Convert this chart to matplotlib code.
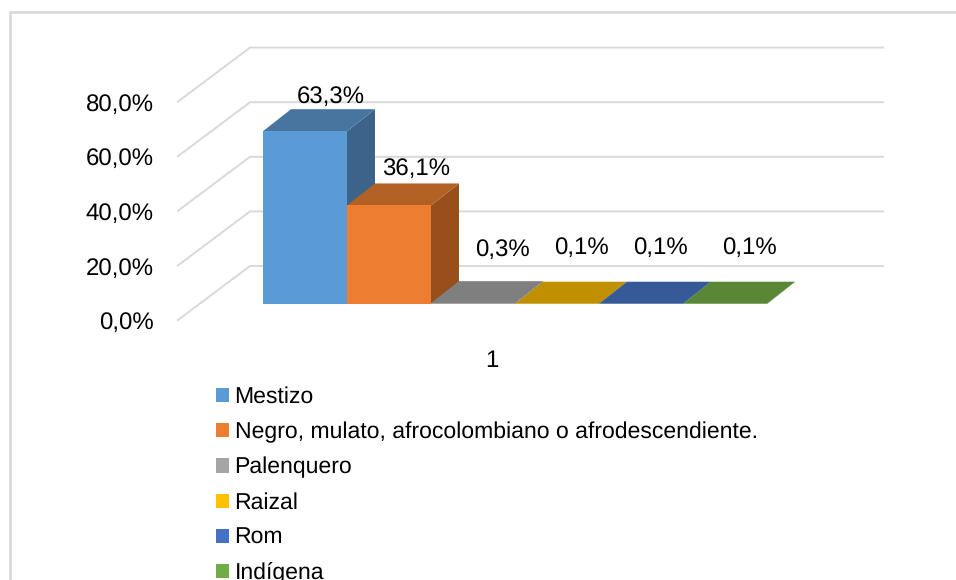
import matplotlib
matplotlib.use('Agg')
from matplotlib import pyplot as plt
from matplotlib.patches import Patch, Polygon
import numpy as np

categories = ['Mestizo', 'Negro, mulato, afrocolombiano o afrodescendiente.',
              'Palenquero', 'Raizal', 'Rom', 'Indígena']
values = [63.3, 36.1, 0.3, 0.1, 0.1, 0.1]
value_labels = ['63,3%', '36,1%', '0,3%', '0,1%', '0,1%', '0,1%']
axis_ticks = [0, 20, 40, 60, 80]
axis_labels = ['0,0%', '20,0%', '40,0%', '60,0%', '80,0%']
group_label = '1'

colors = ['#5B9BD5', '#ED7D31', '#A5A5A5', '#FFC000', '#4472C4', '#70AD47']
top_colors = ['#4775A0', '#B26024', '#7F7F7F', '#C09000', '#355A97', '#5A8736']
side_colors = ['#3C648A', '#97501C', '#6B6B6B', '#A37A00', '#2D4C80', '#4B722E']

# pixel layout of the picture
W, H = 956, 580
BAR_W = 84
X0 = 263
Y0 = 304
PX = 2.73

# depth of the bars and of the walls, in data units
bar_dx = 28 / BAR_W
bar_dy = 22 / PX
wall_dy = 38 / PX
front_dy = -16 / PX
wall_x0 = (250 - X0) / BAR_W
wall_x1 = (883 - X0) / BAR_W
front_x = (178 - X0) / BAR_W

# label nudges (pixels) from the top centre of each bar
label_dx = [26, 27, 29, 24, 19, 24]
label_dy = [34, 37, 53.5, 56, 56, 56]

plt.rcParams['font.family'] = ['Liberation Sans', 'DejaVu Sans']
plt.rcParams['text.hinting'] = 'no_hinting'
plt.rcParams['text.hinting_factor'] = 1
FS = 17
LEGEND_FS = 16.5

fig = plt.figure(figsize=(W / 100, H / 100), dpi=100)
ax = fig.add_axes([0, 0, 1, 1])
ax.set_xlim(-X0 / BAR_W, (W - X0) / BAR_W)
ax.set_ylim((Y0 - H) / PX, Y0 / PX)
ax.axis('off')

# outer frame, only left and top are inside the picture
frame_x = (10.3 - X0) / BAR_W
frame_y = (Y0 - 12.2) / PX
ax.plot([frame_x, frame_x, (W - X0) / BAR_W], [(Y0 - H) / PX, frame_y, frame_y],
        color='#D9D9D9', lw=1.9, solid_joinstyle='miter')

# gridlines on back wall and side wall
for t, lab in zip(axis_ticks, axis_labels):
    ax.plot([front_x, wall_x0, wall_x1], [t + front_dy, t + wall_dy, t + wall_dy],
            color='#D9D9D9', lw=1.4, solid_joinstyle='miter', zorder=1)
    ax.annotate(lab, (front_x, t + front_dy), xytext=(-24, -3), textcoords='offset pixels',
                ha='right', va='center', fontsize=FS, color='black')

x = np.arange(len(values))
ax.bar(x + 0.5, values, width=1, color=colors, zorder=2)
for i, v in enumerate(values):
    top = [(i, v), (i + 1, v), (i + 1 + bar_dx, v + bar_dy), (i + bar_dx, v + bar_dy)]
    side = [(i + 1, 0), (i + 1 + bar_dx, bar_dy), (i + 1 + bar_dx, v + bar_dy), (i + 1, v)]
    ax.add_patch(Polygon(side, closed=True, fc=side_colors[i], ec='none', zorder=1.5 + i * 0.01))
    ax.add_patch(Polygon(top, closed=True, fc=top_colors[i], ec='none', zorder=1.5 + i * 0.01))
    ax.annotate(value_labels[i], (i + 0.5, v), xytext=(label_dx[i], label_dy[i]),
                textcoords='offset pixels', ha='center', va='center',
                fontsize=FS + 0.3, color='black', zorder=5)

ax.text((492 - X0) / BAR_W, (Y0 - 361) / PX, group_label, ha='center', va='center',
        fontsize=FS, color='black')

handles = [Patch(fc=c, ec='none') for c in colors]
ax.legend(handles, categories, loc='upper left',
          bbox_to_anchor=(216 / W, 1 - 386.5 / H), frameon=False, fontsize=LEGEND_FS,
          handlelength=0.57, handleheight=0.57, handletextpad=0.24,
          labelspacing=0.6, borderpad=0, borderaxespad=0)

fig.savefig('out.png', dpi=100)
